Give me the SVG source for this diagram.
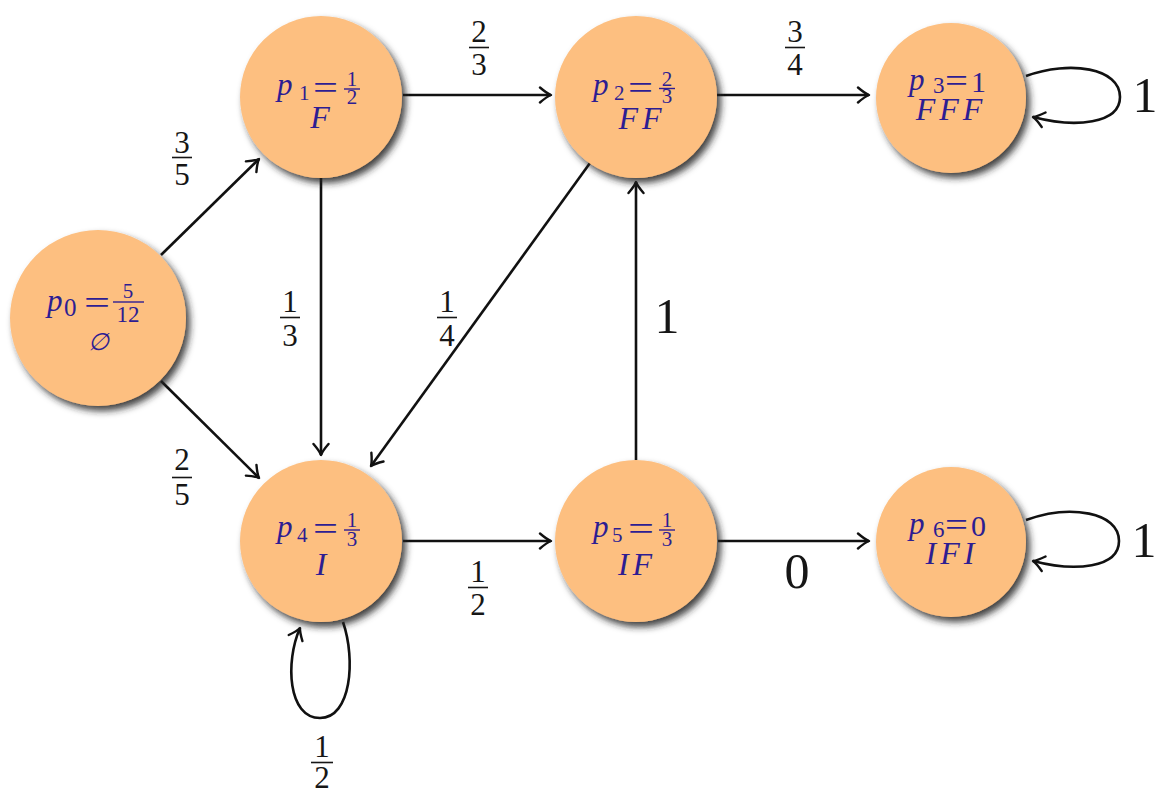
<svg xmlns="http://www.w3.org/2000/svg" width="1156" height="794" viewBox="0 0 1156 794">
<defs>
<filter id="sh" x="-30%" y="-30%" width="160%" height="160%">
<feGaussianBlur in="SourceAlpha" stdDeviation="3.8"/>
<feOffset dx="4" dy="5" result="b"/>
<feFlood flood-color="#222" flood-opacity="0.85"/>
<feComposite in2="b" operator="in"/>
<feMerge><feMergeNode/><feMergeNode in="SourceGraphic"/></feMerge>
</filter>
<marker id="ah" viewBox="-13 -9 15 18" refX="0" refY="0" markerWidth="15" markerHeight="18" markerUnits="userSpaceOnUse" orient="auto">
<path d="M -11 -7.5 Q -4 -1.5 0 0 Q -4 1.5 -11 7.5" fill="none" stroke="#111" stroke-width="2.4" stroke-linecap="round" stroke-linejoin="round"/>
</marker>
</defs>
<style>
text{font-family:"Liberation Serif","Times New Roman","DejaVu Serif",serif}
.node circle{fill:#fdbf80;filter:url(#sh)}
.node text{fill:#2d1d92}
.it{font-style:italic}
.l1{font-size:31px}
.sub{font-size:21px}
.eq{font-size:34px}
.fr{font-size:21px;text-anchor:middle}
.l2{font-style:italic;font-size:32px;text-anchor:middle}
.ls{letter-spacing:4px}
.fb{stroke:#2d1d92;stroke-width:1.4}
.edge{fill:none;stroke:#111;stroke-width:2.6;marker-end:url(#ah)}
.lbl{font-size:31px;fill:#161616;text-anchor:middle}
.big{font-size:50px}
.lb{stroke:#161616;stroke-width:1.6}
</style>

<g id="connectors">
<line class="edge" x1="161" y1="255" x2="259" y2="159"/>
<line class="edge" x1="161" y1="381" x2="259" y2="478"/>
<line class="edge" x1="403" y1="95" x2="551" y2="95"/>
<line class="edge" x1="717" y1="95" x2="869" y2="95"/>
<line class="edge" x1="321" y1="177" x2="321" y2="455"/>
<line class="edge" x1="590" y1="163" x2="371" y2="466"/>
<line class="edge" x1="636" y1="460" x2="636" y2="182"/>
<line class="edge" x1="403" y1="541" x2="551" y2="541"/>
<line class="edge" x1="718" y1="541" x2="869" y2="541"/>
<path class="edge" d="M1026,76 C1070,60 1120,68 1120,97 C1120,124 1075,128 1033,117"/>
<path class="edge" d="M1026,520 C1070,504 1119,512 1119,541 C1119,568 1075,572 1033,561"/>
<path class="edge" d="M343,622 C356,660 351,718 320,718 C288,718 285,662 300,628"/>
<text class="lbl"><tspan x="182" y="153">3</tspan><tspan x="182" y="185">5</tspan></text><line class="lb" x1="172" y1="157.5" x2="192" y2="157.5"/>
<text class="lbl"><tspan x="182" y="470">2</tspan><tspan x="182" y="505">5</tspan></text><line class="lb" x1="172" y1="477.5" x2="192" y2="477.5"/>
<text class="lbl"><tspan x="479" y="42">2</tspan><tspan x="479" y="75">3</tspan></text><line class="lb" x1="469" y1="47.5" x2="489" y2="47.5"/>
<text class="lbl"><tspan x="795" y="42">3</tspan><tspan x="795" y="75">4</tspan></text><line class="lb" x1="785" y1="47.5" x2="805" y2="47.5"/>
<text class="lbl"><tspan x="290" y="312">1</tspan><tspan x="290" y="346">3</tspan></text><line class="lb" x1="280" y1="317.5" x2="300" y2="317.5"/>
<text class="lbl"><tspan x="447" y="312">1</tspan><tspan x="447" y="346">4</tspan></text><line class="lb" x1="437" y1="317.5" x2="457" y2="317.5"/>
<text class="lbl big" x="667" y="333">1</text>
<text class="lbl"><tspan x="478" y="582">1</tspan><tspan x="478" y="615">2</tspan></text><line class="lb" x1="468" y1="587.5" x2="488" y2="587.5"/>
<text class="lbl big" x="797" y="588">0</text>
<text class="lbl big" x="1145" y="112">1</text>
<text class="lbl big" x="1144" y="557">1</text>
<text class="lbl"><tspan x="322" y="757">1</tspan><tspan x="322" y="788">2</tspan></text><line class="lb" x1="311" y1="762.5" x2="333" y2="762.5"/>
</g>

<g id="p0" class="node">
<circle cx="98" cy="318" r="88"/>
<text class="l1"><tspan class="it" x="47" y="311">p</tspan><tspan x="64" y="316" style="font-size:25px">0</tspan><tspan class="eq" x="84" y="314" textLength="26" lengthAdjust="spacingAndGlyphs">=</tspan></text>
<text class="fr"><tspan x="128" y="298">5</tspan><tspan x="128" y="322" style="font-size:23px">12</tspan></text>
<line class="fb" x1="113" y1="302" x2="144" y2="302"/>
<text x="98" y="350" style="font-size:24px;font-family:'DejaVu Serif',serif;text-anchor:middle;font-style:italic">∅</text>
</g>

<g id="p1" class="node">
<circle cx="321" cy="97" r="81"/>
<text class="l1"><tspan class="it" x="277" y="95">p</tspan><tspan class="sub" x="299" y="100">1</tspan><tspan class="eq" x="313" y="99" textLength="25" lengthAdjust="spacingAndGlyphs">=</tspan></text>
<text class="fr"><tspan x="352" y="86">1</tspan><tspan x="352" y="104">2</tspan></text>
<line class="fb" x1="344" y1="89" x2="360" y2="89"/>
<text class="l2" x="320" y="128">F</text>
</g>

<g id="p2" class="node">
<circle cx="636" cy="97" r="81"/>
<text class="l1"><tspan class="it" x="593" y="95">p</tspan><tspan class="sub" x="614" y="100">2</tspan><tspan class="eq" x="628" y="99" textLength="25" lengthAdjust="spacingAndGlyphs">=</tspan></text>
<text class="fr"><tspan x="667" y="86">2</tspan><tspan x="667" y="103">3</tspan></text>
<line class="fb" x1="659" y1="88.5" x2="675" y2="88.5"/>
<text class="l2 ls" x="642" y="129">FF</text>
</g>

<g id="p3" class="node">
<circle cx="951" cy="98" r="75"/>
<text class="l1"><tspan class="it" x="909" y="90">p</tspan><tspan x="933" y="93" style="font-size:23px">3</tspan><tspan class="eq" x="945" y="92" textLength="23" lengthAdjust="spacingAndGlyphs">=</tspan><tspan x="971" y="92" style="font-size:30px">1</tspan></text>
<text class="l2 ls" x="951" y="120">FFF</text>
</g>

<g id="p4" class="node">
<circle cx="321" cy="541" r="81"/>
<text class="l1"><tspan class="it" x="277" y="537">p</tspan><tspan class="sub" x="297" y="542">4</tspan><tspan class="eq" x="313" y="540" textLength="25" lengthAdjust="spacingAndGlyphs">=</tspan></text>
<text class="fr"><tspan x="352" y="527">1</tspan><tspan x="352" y="546">3</tspan></text>
<line class="fb" x1="344" y1="530" x2="360" y2="530"/>
<text class="l2" x="321" y="575">I</text>
</g>

<g id="p5" class="node">
<circle cx="636" cy="541" r="81"/>
<text class="l1"><tspan class="it" x="593" y="537">p</tspan><tspan class="sub" x="612" y="542">5</tspan><tspan class="eq" x="628" y="540" textLength="26" lengthAdjust="spacingAndGlyphs">=</tspan></text>
<text class="fr"><tspan x="667" y="527">1</tspan><tspan x="667" y="546">3</tspan></text>
<line class="fb" x1="659" y1="530" x2="675" y2="530"/>
<text class="l2 ls" x="637" y="575">IF</text>
</g>

<g id="p6" class="node">
<circle cx="951" cy="542" r="75"/>
<text class="l1"><tspan class="it" x="909" y="534">p</tspan><tspan x="933" y="537" style="font-size:23px">6</tspan><tspan class="eq" x="945" y="536" textLength="23" lengthAdjust="spacingAndGlyphs">=</tspan><tspan x="971" y="536" style="font-size:30px">0</tspan></text>
<text class="l2 ls" x="952" y="564">IFI</text>
</g>
</svg>
